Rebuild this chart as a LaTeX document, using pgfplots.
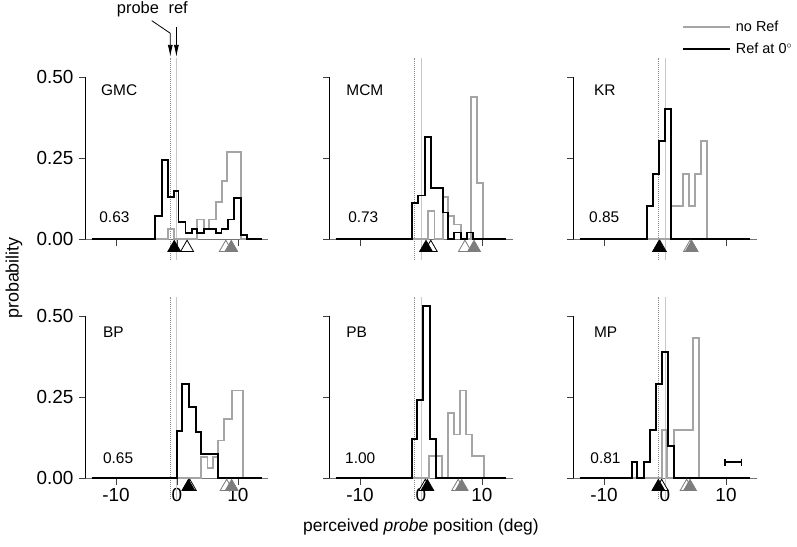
\documentclass[border=0pt]{standalone}
\usepackage{pgfplots}
\pgfplotsset{compat=1.18}
\usepackage{fontspec}
\setmainfont{Liberation Sans}
\usetikzlibrary{arrows.meta}
\definecolor{histgray}{RGB}{165,165,165}
\definecolor{trigray}{RGB}{125,125,125}
\definecolor{refgray}{RGB}{200,200,200}
\definecolor{probegray}{RGB}{140,140,140}
\newcommand\tickfont{\fontsize{19}{22}\selectfont}
\newcommand\panelfont{\fontsize{15.5}{18}\selectfont}
\newcommand\labfont{\fontsize{17.5}{21}\selectfont}
\pgfplotsset{
  panel/.style={
    scale only axis, width=183bp, height=162bp,
    xmin=-15, xmax=15, ymin=0, ymax=0.5,
    axis x line*=bottom, axis y line*=left,
    clip=false,
    x axis line style={black!55, line width=0.8bp, -},
    y axis line style={black, line width=0.8bp, -},
    xtick={-10,0,10}, ytick={0,0.25,0.5},
    xticklabels={}, yticklabels={},
    tick align=outside, major tick length=6.5bp,
    tick style={black!75, line width=0.8bp},
    /pgf/number format/assume math mode=true,
    tick label style={font=\tickfont},
    yticklabel style={xshift=-2bp},
    anchor=south west,
  },
  xlab/.style={xticklabels={-10,0,10}},
  ylab/.style={yticklabels={0.00,0.25,0.50}},
  gh/.style={const plot, histgray, line width=1.8bp},
  bh/.style={const plot, black, line width=1.8bp},
  probeline/.style={probegray, densely dotted, line width=1bp},
  refline/.style={refgray, line width=1bp},
  tblk/.style={only marks, mark=triangle*, mark size=7.5bp, mark options={fill=black, draw=black, line width=0.6bp}},
  topen/.style={only marks, mark=triangle*, mark size=7.5bp, mark options={fill=white, draw=black, line width=0.8bp}},
  tgry/.style={only marks, mark=triangle*, mark size=7.5bp, mark options={fill=trigray, draw=trigray, line width=0.6bp}},
  tgopen/.style={only marks, mark=triangle*, mark size=7.5bp, mark options={fill=white, draw=trigray, line width=0.8bp}},
}
\begin{document}
\begin{tikzpicture}
\path[use as bounding box] (0,0) rectangle (797bp,-547bp);

% ---------- GMC ----------
\begin{axis}[panel, ylab, at={(85.5bp,-239bp)}]
\addplot[probeline] coordinates {(-1,-0.065) (-1,0.56)};
\addplot[refline] coordinates {(0,-0.065) (0,0.56)};
\addplot[gh] coordinates {(-14,0) (-1.42,0.031) (-0.44,0) (3.33,0.06) (4.4,0.031) (5.3,0.06) (6.4,0.115) (7.35,0.178) (8.2,0.268) (10.45,0) (14,0)};
\addplot[bh] coordinates {(-14,0) (-3.55,0.07) (-2.45,0.245) (-1.42,0.13) (-0.55,0.147) (0.25,0.052) (1.4,0.019) (2.5,0.031) (3.33,0.019) (4.4,0.031) (6.4,0.019) (7.3,0.031) (8.3,0.06) (9.3,0.127) (10.45,0.013) (11.42,0) (14,0)};
\addplot[topen] coordinates {(1.65,-0.027)};
\addplot[tblk] coordinates {(-0.45,-0.027)};
\addplot[tgopen] coordinates {(8.0,-0.027)};
\addplot[tgry] coordinates {(8.9,-0.027)};
\node[anchor=west, font=\panelfont] at (axis cs:-13,0.46) {GMC};
\node[anchor=west, font=\panelfont] at (axis cs:-13.3,0.066) {0.63};
\node[anchor=base, font=\fontsize{16.5}{19}\selectfont] at (axis cs:-6.4,0.695) {probe};
\node[anchor=base, font=\fontsize{16.5}{19}\selectfont] at (axis cs:0.2,0.695) {ref};
\draw[line width=0.8bp, -{Latex[length=12bp,width=5bp]}] (axis cs:-4.15,0.674) -- (axis cs:-1.1,0.635) -- (axis cs:-1.1,0.562);
\draw[line width=0.8bp, -{Latex[length=12bp,width=5bp]}] (axis cs:-0.1,0.655) -- (axis cs:-0.1,0.562);
\end{axis}

% ---------- MCM ----------
\begin{axis}[panel, at={(329.5bp,-239bp)}]
\addplot[probeline] coordinates {(-1,-0.065) (-1,0.56)};
\addplot[refline] coordinates {(0,-0.065) (0,0.56)};
\addplot[gh] coordinates {(-14,0) (1.2,0.087) (2.2,0) (3.66,0.13) (4.48,0.07) (5.41,0.045) (6.5,0) (8.2,0.438) (9.24,0.173) (10.2,0) (14,0)};
\addplot[bh] coordinates {(-14,0) (-1.53,0.111) (-0.44,0.134) (0.66,0.314) (1.58,0.157) (3.66,0.082) (4.48,0) (5.41,0.02) (6.5,0) (7.49,0.02) (8.47,0) (14,0)};
\addplot[topen] coordinates {(1.6,-0.027)};
\addplot[tblk] coordinates {(0.82,-0.027)};
\addplot[tgopen] coordinates {(7.2,-0.027)};
\addplot[tgry] coordinates {(8.7,-0.027)};
\node[anchor=west, font=\panelfont] at (axis cs:-12.8,0.46) {MCM};
\node[anchor=west, font=\panelfont] at (axis cs:-12.5,0.066) {0.73};
\end{axis}

% ---------- KR ----------
\begin{axis}[panel, at={(573.5bp,-239bp)},
  legend image code/.code={\draw[#1, line width=2.2bp] (0bp,0bp) -- (47bp,0bp); \path (51bp,0bp);},
  legend style={draw=none, fill=none, at={(0.59,1.36)}, anchor=north west, font=\fontsize{14.5}{17}\selectfont, row sep=6bp, inner sep=0pt},
  legend cell align=left]
\addlegendimage{histgray}
\addlegendimage{black}
\addplot[probeline] coordinates {(-1,-0.065) (-1,0.56)};
\addplot[refline] coordinates {(0,-0.065) (0,0.56)};
\addplot[gh] coordinates {(-14,0) (0.98,0.101) (3.0,0.2) (3.93,0.101) (4.92,0.2) (5.9,0.303) (6.94,0) (14,0)};
\addplot[bh] coordinates {(-14,0) (-3.0,0.101) (-1.91,0.2) (-0.98,0.303) (0,0.402) (0.98,0) (14,0)};
\addplot[topen] coordinates {(-0.85,-0.027)};
\addplot[tblk] coordinates {(-0.98,-0.027)};
\addplot[tgopen] coordinates {(4.1,-0.027)};
\addplot[tgry] coordinates {(4.37,-0.027)};
\node[anchor=west, font=\panelfont] at (axis cs:-12.2,0.46) {KR};
\node[anchor=west, font=\panelfont] at (axis cs:-13,0.066) {0.85};
\legend{no Ref, Ref at 0\textsuperscript{$\circ$}}
\end{axis}

% ---------- BP ----------
\begin{axis}[panel, ylab, xlab, at={(85.5bp,-478bp)}]
\addplot[probeline] coordinates {(-1,-0.065) (-1,0.56)};
\addplot[refline] coordinates {(0,-0.065) (0,0.56)};
\addplot[gh] coordinates {(-14,0) (3.88,0.065) (5.0,0.031) (5.96,0.065) (6.78,0.116) (7.76,0.183) (8.96,0.27) (10.87,0) (14,0)};
\addplot[bh] coordinates {(-14,0) (0,0.144) (0.87,0.289) (1.97,0.219) (3.06,0.142) (3.88,0.075) (6.78,0) (14,0)};
\addplot[topen] coordinates {(2.1,-0.027)};
\addplot[tblk] coordinates {(1.86,-0.027)};
\addplot[tgopen] coordinates {(8.14,-0.027)};
\addplot[tgry] coordinates {(8.96,-0.027)};
\node[anchor=west, font=\panelfont] at (axis cs:-12.7,0.45) {BP};
\node[anchor=west, font=\panelfont] at (axis cs:-12.7,0.062) {0.65};
\end{axis}

% ---------- PB ----------
\begin{axis}[panel, xlab, at={(329.5bp,-478bp)}]
\addplot[probeline] coordinates {(-1,-0.065) (-1,0.56)};
\addplot[refline] coordinates {(0,-0.065) (0,0.56)};
\addplot[gh] coordinates {(-14,0) (1.37,0.067) (3.39,0) (4.48,0.2) (5.41,0.134) (6.39,0.27) (7.38,0.134) (8.31,0.069) (10.38,0) (14,0)};
\addplot[bh] coordinates {(-14,0) (-1.53,0.12) (-0.6,0.24) (0.3,0.53) (1.48,0.121) (2.46,0) (14,0)};
\addplot[topen] coordinates {(0.7,-0.027)};
\addplot[tblk] coordinates {(1.04,-0.027)};
\addplot[tgopen] coordinates {(6.1,-0.027)};
\addplot[tgry] coordinates {(6.67,-0.027)};
\node[anchor=west, font=\panelfont] at (axis cs:-12.8,0.45) {PB};
\node[anchor=west, font=\panelfont] at (axis cs:-13,0.062) {1.00};
\end{axis}

% ---------- MP ----------
\begin{axis}[panel, xlab, at={(573.5bp,-478bp)}]
\addplot[probeline] coordinates {(-1,-0.065) (-1,0.56)};
\addplot[refline] coordinates {(0,-0.065) (0,0.56)};
\addplot[gh] coordinates {(-14,0) (-0.49,0.147) (0.3,0) (1.48,0.147) (4.53,0.433) (5.52,0) (14,0)};
\addplot[bh] coordinates {(-14,0) (-5.46,0.049) (-4.54,0) (-3.44,0.049) (-2.46,0.147) (-1.48,0.29) (-0.49,0.39) (0.55,0.099) (1.48,0) (14,0)};
\addplot[topen] coordinates {(-0.55,-0.027)};
\addplot[tblk] coordinates {(-1.09,-0.027)};
\addplot[tgopen] coordinates {(3.55,-0.027)};
\addplot[tgry] coordinates {(4.1,-0.027)};
\addplot[black, line width=1.5bp, draw=none, error bars/.cd, x dir=both, x explicit, error bar style={line width=1.5bp}, error mark options={rotate=90, mark size=3.5bp, line width=1.5bp}]
  coordinates {(11.2,0.049) +- (1.36,0)};
\node[anchor=west, font=\panelfont] at (axis cs:-12.2,0.45) {MP};
\node[anchor=west, font=\panelfont] at (axis cs:-12.8,0.062) {0.81};
\end{axis}

\node[rotate=90, font=\fontsize{18}{21}\selectfont] at (14bp,-278bp) {probability};
\node[font=\labfont] at (421bp,-527bp) {perceived \textit{probe} position (deg)};
\end{tikzpicture}
\end{document}
